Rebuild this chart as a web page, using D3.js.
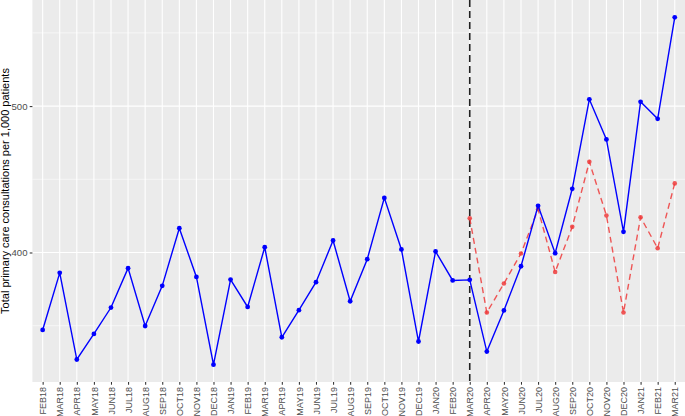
<!DOCTYPE html>
<html><head><meta charset="utf-8">
<script src="https://cdn.jsdelivr.net/npm/d3@7"></script>
<style>body{margin:0;background:#fff}svg{display:block}</style>
</head><body><svg id="c" width="685" height="416"></svg>
<script>
const months = ["FEB18","MAR18","APR18","MAY18","JUN18","JUL18","AUG18","SEP18","OCT18","NOV18","DEC18","JAN19","FEB19","MAR19","APR19","MAY19","JUN19","JUL19","AUG19","SEP19","OCT19","NOV19","DEC19","JAN20","FEB20","MAR20","APR20","MAY20","JUN20","JUL20","AUG20","SEP20","OCT20","NOV20","DEC20","JAN21","FEB21","MAR21"];
const observed = [347.1,386.1,326.9,344.4,362.4,389.3,349.8,377.2,416.6,383.3,323.4,381.5,362.8,403.6,342.1,360.6,379.7,408.2,366.7,395.4,437.3,402.1,339.2,400.7,380.9,381.3,332.3,360.4,390.6,431.9,399.5,443.5,504.6,477.2,414.1,502.9,491.3,560.6];
const expectedMonths = ["MAR20","APR20","MAY20","JUN20","JUL20","AUG20","SEP20","OCT20","NOV20","DEC20","JAN21","FEB21","MAR21"];
const expected = [423.4,359.0,378.8,399.3,429.6,386.7,417.5,461.9,425.3,359.0,424.1,402.9,447.2];
const yTicks = [400,500];
const yMinor = [350,450,550];
const breakMonth = "MAR20";

const svg = d3.select("#c");
const m = {l:32.4, r:0, t:0, b:34};
const W = 685, H = 416;
const pw = W - m.l - m.r, ph = H - m.t - m.b;
const g = svg.append("g").attr("transform",`translate(${m.l},${m.t})`);

const x = d3.scalePoint().domain(months).range([0,pw]).padding(0.6);
const lo = d3.min(observed.concat(expected)), hi = d3.max(observed.concat(expected));
const span = hi - lo;
const y = d3.scaleLinear().domain([lo-0.05*span, hi+0.05*span]).range([ph,0]);

g.append("rect").attr("width",pw).attr("height",ph).attr("fill","#EBEBEB");
g.selectAll(".mn").data(yMinor).enter().append("line")
 .attr("x1",0).attr("x2",pw).attr("y1",d=>y(d)).attr("y2",d=>y(d))
 .attr("stroke","#fff").attr("stroke-width",0.55);
g.selectAll(".mj").data(yTicks).enter().append("line")
 .attr("x1",0).attr("x2",pw).attr("y1",d=>y(d)).attr("y2",d=>y(d))
 .attr("stroke","#fff").attr("stroke-width",1.1);
g.selectAll(".vx").data(months).enter().append("line")
 .attr("x1",d=>x(d)).attr("x2",d=>x(d)).attr("y1",0).attr("y2",ph)
 .attr("stroke","#fff").attr("stroke-width",1.1);

// axes
const ya = d3.axisLeft(y).tickValues(yTicks).tickSize(2.7).tickPadding(2.2);
const yg = g.append("g").call(ya);
yg.select(".domain").remove();
yg.selectAll("line").attr("stroke","#333").attr("stroke-width",1.07);
yg.selectAll("text").attr("fill","#4D4D4D").style("font-family","Liberation Sans, Arial, sans-serif").style("font-size","9.6px");

const xa = d3.axisBottom(x).tickSize(2.7).tickPadding(2.2);
const xg = g.append("g").attr("transform",`translate(0,${ph})`).call(xa);
xg.select(".domain").remove();
xg.selectAll("line").attr("stroke","#333").attr("stroke-width",1.07);
xg.selectAll("text").attr("fill","#4D4D4D").style("font-family","Liberation Sans, Arial, sans-serif").style("font-size","9px")
 .attr("transform","rotate(-90)").attr("text-anchor","end").attr("dy","0.35em").attr("x",-5).attr("y",0);

// vertical break line
g.append("line").attr("x1",x(breakMonth)).attr("x2",x(breakMonth)).attr("y1",0).attr("y2",ph)
 .attr("stroke","#222").attr("stroke-width",1.6).attr("stroke-dasharray","7,4");

// expected (red dashed)
const red = "#EE3B3B";
g.append("path").datum(expectedMonths.map((d,i)=>[d,expected[i]]))
 .attr("fill","none").attr("stroke",red).attr("stroke-opacity",0.85).attr("stroke-width",1.4).attr("stroke-dasharray","6,4")
 .attr("d",d3.line().x(d=>x(d[0])).y(d=>y(d[1])));
g.selectAll(".rp").data(expectedMonths.map((d,i)=>[d,expected[i]])).enter().append("circle")
 .attr("cx",d=>x(d[0])).attr("cy",d=>y(d[1])).attr("r",2.3).attr("fill",red).attr("fill-opacity",0.85);

// observed (blue)
g.append("path").datum(months.map((d,i)=>[d,observed[i]]))
 .attr("fill","none").attr("stroke","#0000FF").attr("stroke-width",1.4)
 .attr("d",d3.line().x(d=>x(d[0])).y(d=>y(d[1])));
g.selectAll(".bp").data(months.map((d,i)=>[d,observed[i]])).enter().append("circle")
 .attr("cx",d=>x(d[0])).attr("cy",d=>y(d[1])).attr("r",2.4).attr("fill","#0000FF");

// y title
svg.append("text").attr("transform",`translate(5.5,${m.t+ph/2}) rotate(-90)`)
 .attr("text-anchor","middle").attr("dy","0.35em")
 .style("font-family","Liberation Sans, Arial, sans-serif").style("font-size","11px").attr("fill","#000")
 .text("Total primary care consultations per 1,000 patients");
</script></body></html>
